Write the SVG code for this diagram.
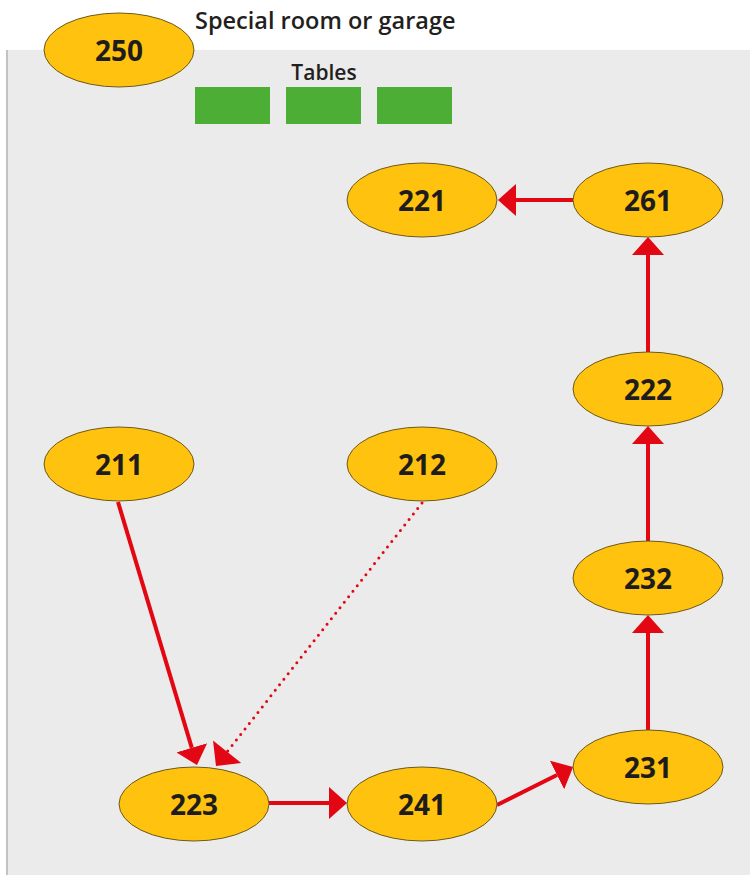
<svg xmlns="http://www.w3.org/2000/svg" width="750" height="875" viewBox="0 0 750 875">
<defs>
<style>
.node ellipse{fill:#FFC20E;stroke:#6b5a1e;stroke-width:1}
.node text{font-family:"Open Sans","Liberation Sans",sans-serif;font-weight:700;font-size:28px;fill:#1e1c1c;text-anchor:middle}
.lbl{font-family:"Open Sans","Liberation Sans",sans-serif;font-weight:600;font-size:21px;fill:#231f20}
.conn{stroke:#e30613;stroke-width:4;fill:none}
.dot{stroke:#e30613;stroke-width:3;fill:none;stroke-dasharray:0 7;stroke-linecap:round}
.table{fill:#4DAE36}
</style>
<marker id="ah" viewBox="0 0 18 32" refX="0" refY="16" markerWidth="18" markerHeight="32" markerUnits="userSpaceOnUse" orient="auto">
<path d="M0,0 L18,16 L0,32 Z" fill="#e30613"/>
</marker>
</defs>
<rect x="0" y="0" width="750" height="875" fill="#ffffff"/>
<rect x="7" y="50" width="743" height="825" fill="#ebebeb"/>
<line x1="7" y1="50" x2="7" y2="875" stroke="#c2c2c2" stroke-width="2"/>

<g id="title">
<text class="lbl" x="195" y="29" style="font-size:23.5px">Special room or garage</text>
</g>
<g id="tables">
<text class="lbl" x="324" y="80" text-anchor="middle">Tables</text>
<rect class="table" x="195" y="87" width="75" height="37"/>
<rect class="table" x="286" y="87" width="75" height="37"/>
<rect class="table" x="377" y="87" width="75" height="37"/>
</g>

<g id="connectors">
<line class="conn" x1="573" y1="200" x2="516" y2="200" marker-end="url(#ah)"/>
<line class="conn" x1="648" y1="353" x2="648" y2="255" marker-end="url(#ah)"/>
<line class="conn" x1="648" y1="542" x2="648" y2="444" marker-end="url(#ah)"/>
<line class="conn" x1="648" y1="730" x2="648" y2="633" marker-end="url(#ah)"/>
<line class="conn" x1="269" y1="803" x2="329" y2="803" marker-end="url(#ah)"/>
<line class="conn" x1="497" y1="805" x2="557" y2="775" marker-end="url(#ah)"/>
<line class="conn" x1="118" y1="502" x2="191.8" y2="747.8" marker-end="url(#ah)"/>
<line class="dot" x1="422" y1="503" x2="227.1" y2="751.8"/>
<path d="M227.1,751.8 L241.2,763.1 L216,766 L213,740.5 Z" fill="#e30613"/>
</g>

<g id="n250" class="node"><ellipse cx="119" cy="50" rx="75" ry="37"/><text x="119" y="61">250</text></g>
<g id="n221" class="node"><ellipse cx="422" cy="200" rx="75" ry="37"/><text x="422" y="211">221</text></g>
<g id="n261" class="node"><ellipse cx="648" cy="200" rx="75" ry="37"/><text x="648" y="211">261</text></g>
<g id="n222" class="node"><ellipse cx="648" cy="389" rx="75" ry="37"/><text x="648" y="400">222</text></g>
<g id="n232" class="node"><ellipse cx="648" cy="578" rx="75" ry="37"/><text x="648" y="589">232</text></g>
<g id="n231" class="node"><ellipse cx="648" cy="767" rx="75" ry="37"/><text x="648" y="778">231</text></g>
<g id="n211" class="node"><ellipse cx="119" cy="464" rx="75" ry="37"/><text x="119" y="475">211</text></g>
<g id="n212" class="node"><ellipse cx="422" cy="464" rx="75" ry="37"/><text x="422" y="475">212</text></g>
<g id="n223" class="node"><ellipse cx="194" cy="804" rx="75" ry="37"/><text x="194" y="815">223</text></g>
<g id="n241" class="node"><ellipse cx="422" cy="804" rx="75" ry="37"/><text x="422" y="815">241</text></g>
</svg>
